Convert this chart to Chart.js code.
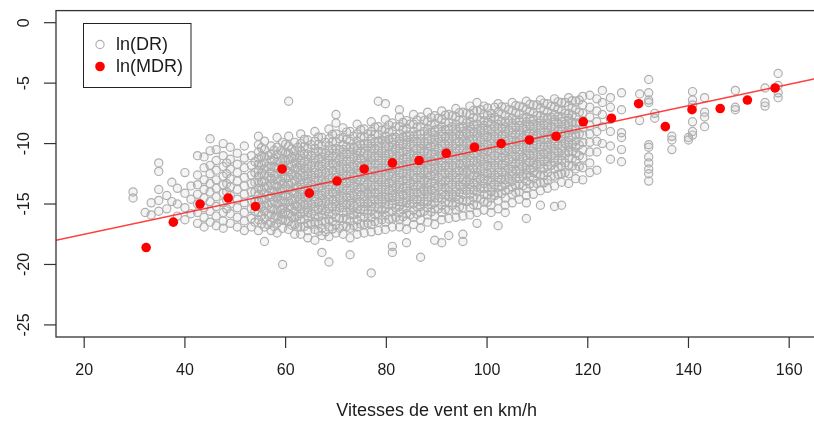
<!DOCTYPE html>
<html>
<head>
<meta charset="utf-8">
<script src="https://cdn.jsdelivr.net/npm/chart.js@4/dist/chart.umd.min.js"></script>
<style>
  html, body { margin: 0; padding: 0; background: #fff; overflow: hidden; }
  #wrap { width: 830px; height: 424px; }
</style>
</head>
<body>
<div id="wrap"><canvas id="plot" width="830" height="424"></canvas></div>
<script>
const xTicks = [20, 40, 60, 80, 100, 120, 140, 160];
const yTicks = [0, -5, -10, -15, -20, -25];

// mean ln(MDR) per speed class
const mdrSpeed = [32.3, 37.7, 43.0, 48.6, 54.0, 59.3, 64.7, 70.2, 75.6, 81.2, 86.5, 91.9,
                  97.5, 102.8, 108.4, 113.7, 119.1, 124.7, 130.1, 135.4, 140.7, 146.3, 151.7, 157.2];
const mdrLn = [-18.6, -16.5, -15.0, -14.5, -15.2, -12.1, -14.1, -13.1, -12.1, -11.6, -11.4, -10.8,
               -10.3, -10.0, -9.7, -9.4, -8.2, -7.9, -6.7, -8.6, -7.2, -7.1, -6.4, -5.4];

// regression line ends
const lineSpeed = [14.4, 165.6];
const lineLn = [-18.0, -4.6];

// ln(DR) observations, grouped by wind speed
const drColumns = [
  [29.7, [-14.0, -14.5]],
  [32.1, [-15.7]],
  [33.3, [-14.9, -15.9]],
  [34.8, [-11.6, -12.3, -13.8, -14.7, -15.6]],
  [36.4, [-14.3, -15.4]],
  [37.4, [-13.2, -14.8]],
  [38.5, [-13.7, -15.0, -16.0]],
  [40.0, [-12.4, -14.1, -15.3, -16.3]],
  [41.2, [-13.5, -14.6, -15.8]],
  [42.5, [-11.0, -12.6, -13.4, -14.2, -15.0, -15.7, -16.6]],
  [43.8, [-11.1, -12.0, -13.0, -13.8, -14.5, -15.3, -16.1, -16.9]],
  [45.0, [-9.6, -10.6, -11.8, -12.5, -13.3, -14.0, -14.8, -15.6, -16.5]],
  [46.2, [-10.5, -11.4, -12.2, -13.0, -13.7, -14.4, -15.2, -16.0, -16.8]],
  [47.6, [-10.0, -11.0, -11.9, -12.7, -13.4, -14.1, -14.9, -15.7, -16.4, -17.0]],
  [48.3, [-11.6, -12.5, -13.3, -14.0, -14.7, -15.4]],
  [49.0, [-10.3, -11.3, -12.1, -12.9, -13.6, -14.3, -15.0, -15.8, -16.6]],
  [50.4, [-10.8, -11.7, -12.4, -13.1, -13.8, -14.6, -15.3, -16.1, -16.9]],
  [51.8, [-10.2, -11.2, -12.0, -12.8, -13.5, -14.2, -14.9, -15.7, -16.4, -17.2]],
  [53.2, [-11.0, -11.8, -12.6, -13.3, -14.0, -14.7, -15.4, -16.2, -16.9]],
  [53.9, [-11.5, -12.4, -13.2, -14.0, -14.8, -15.6, -16.5]],
  [54.6, [-9.4, -10.1, -10.7, -11.2, -11.7, -12.2, -12.7, -13.2, -13.7, -14.2, -14.7, -15.2, -15.7, -16.3, -17.2]],
  [55.2, [-10.35, -11.05, -11.75, -12.45, -13.15, -13.85, -14.55, -15.25, -15.95, -16.65]],
  [55.8, [-9.8, -10.5, -11.1, -11.6, -12.1, -12.6, -13.1, -13.6, -14.1, -14.6, -15.1, -15.6, -16.2, -16.9, -18.1]],
  [56.5, [-11.0, -11.9, -12.7, -13.5, -14.3, -15.1, -15.9, -16.7]],
  [57.1, [-10.2, -10.9, -11.4, -11.9, -12.4, -12.9, -13.4, -13.9, -14.4, -14.9, -15.4, -15.9, -16.5, -17.2]],
  [57.7, [-10.55, -11.25, -11.95, -12.65, -13.35, -14.05, -14.75, -15.45, -16.15, -16.85]],
  [58.3, [-9.5, -10.3, -10.9, -11.5, -12.0, -12.5, -13.0, -13.5, -14.0, -14.5, -15.0, -15.5, -16.0, -16.6, -17.4]],
  [59.0, [-10.6, -11.5, -12.3, -13.1, -13.9, -14.7, -15.5, -16.3]],
  [59.4, [-9.9, -10.7, -11.3, -11.8, -12.3, -12.8, -13.3, -13.8, -14.3, -14.8, -15.3, -15.8, -16.3, -17.0, -20.0]],
  [60.0, [-10.05, -10.75, -11.45, -12.15, -12.85, -13.55, -14.25, -14.95, -15.65, -16.35]],
  [60.6, [-6.5, -9.4, -10.2, -10.8, -11.3, -11.8, -12.3, -12.8, -13.3, -13.8, -14.3, -14.8, -15.3, -15.8, -16.4, -17.1]],
  [61.2, [-10.45, -11.15, -11.85, -12.55, -13.25, -13.95, -14.65, -15.35, -16.05, -16.75]],
  [61.8, [-9.9, -10.6, -11.1, -11.6, -12.1, -12.6, -13.1, -13.6, -14.1, -14.6, -15.1, -15.6, -16.1, -16.7, -17.5]],
  [62.4, [-10.3, -11.2, -12.0, -12.8, -13.6, -14.4, -15.2, -16.0, -16.9]],
  [63.0, [-9.2, -10.0, -10.6, -11.0, -11.4, -11.8, -12.2, -12.6, -13.0, -13.4, -13.8, -14.2, -14.6, -15.0, -15.4, -15.8, -16.3, -16.9, -17.5]],
  [63.7, [-9.65, -10.25, -10.85, -11.45, -12.05, -12.65, -13.25, -13.85, -14.45, -15.05, -15.65, -16.25, -16.85]],
  [64.4, [-9.7, -10.4, -10.9, -11.3, -11.7, -12.1, -12.5, -12.9, -13.3, -13.7, -14.1, -14.5, -14.9, -15.3, -15.7, -16.1, -16.6, -17.2, -17.8]],
  [65.1, [-10.1, -11.0, -11.8, -12.6, -13.4, -14.2, -15.0, -15.8, -16.7]],
  [65.8, [-9.0, -9.8, -10.4, -10.8, -11.2, -11.6, -12.0, -12.4, -12.8, -13.2, -13.6, -14.0, -14.4, -14.8, -15.2, -15.6, -16.0, -16.5, -17.1, -18.0]],
  [66.5, [-9.45, -10.05, -10.65, -11.25, -11.85, -12.45, -13.05, -13.65, -14.25, -14.85, -15.45, -16.05, -16.65, -17.25]],
  [67.2, [-9.5, -10.2, -10.7, -11.1, -11.5, -11.9, -12.3, -12.7, -13.1, -13.5, -13.9, -14.3, -14.7, -15.1, -15.5, -15.9, -16.4, -17.0, -17.6, -19.0]],
  [67.9, [-9.9, -10.8, -11.6, -12.4, -13.2, -14.0, -14.8, -15.6, -16.5, -17.3]],
  [68.6, [-8.8, -9.6, -10.2, -10.6, -11.0, -11.4, -11.8, -12.2, -12.6, -13.0, -13.4, -13.8, -14.2, -14.6, -15.0, -15.4, -15.8, -16.3, -16.9, -17.7, -19.8]],
  [69.3, [-9.25, -9.85, -10.45, -11.05, -11.65, -12.25, -12.85, -13.45, -14.05, -14.65, -15.25, -15.85, -16.45, -17.05]],
  [70.0, [-7.6, -8.3, -9.2, -9.9, -10.4, -10.8, -11.2, -11.6, -12.0, -12.4, -12.8, -13.2, -13.6, -14.0, -14.4, -14.8, -15.2, -15.6, -16.1, -16.7, -17.4]],
  [70.7, [-9.6, -10.5, -11.3, -12.1, -12.9, -13.7, -14.5, -15.3, -16.2, -17.0]],
  [71.4, [-8.7, -9.5, -10.1, -10.5, -10.9, -11.3, -11.7, -12.1, -12.5, -12.9, -13.3, -13.7, -14.1, -14.5, -14.9, -15.3, -15.7, -16.2, -16.8, -17.5]],
  [72.1, [-9.05, -9.65, -10.25, -10.85, -11.45, -12.05, -12.65, -13.25, -13.85, -14.45, -15.05, -15.65, -16.25, -16.85]],
  [72.8, [-9.0, -9.8, -10.3, -10.7, -11.1, -11.5, -11.9, -12.3, -12.7, -13.1, -13.5, -13.9, -14.3, -14.7, -15.1, -15.5, -15.9, -16.4, -17.0, -17.8, -19.2]],
  [73.5, [-9.4, -10.3, -11.1, -11.9, -12.7, -13.5, -14.3, -15.1, -15.9, -16.8]],
  [74.2, [-8.4, -9.2, -9.8, -10.2, -10.6, -11.0, -11.4, -11.8, -12.2, -12.6, -13.0, -13.4, -13.8, -14.2, -14.6, -15.0, -15.4, -15.8, -16.3, -16.9, -17.5]],
  [74.9, [-8.85, -9.45, -10.05, -10.65, -11.25, -11.85, -12.45, -13.05, -13.65, -14.25, -14.85, -15.45, -16.05, -16.65]],
  [75.6, [-8.8, -9.5, -10.0, -10.4, -10.8, -11.2, -11.6, -12.0, -12.4, -12.8, -13.2, -13.6, -14.0, -14.4, -14.8, -15.2, -15.6, -16.1, -16.7, -17.4]],
  [76.3, [-9.2, -10.0, -10.9, -11.7, -12.5, -13.3, -14.1, -14.9, -15.8, -16.6]],
  [77.0, [-8.2, -9.0, -9.6, -10.0, -10.4, -10.8, -11.2, -11.6, -12.0, -12.4, -12.8, -13.2, -13.6, -14.0, -14.4, -14.8, -15.2, -15.6, -16.1, -16.7, -17.3, -20.7]],
  [77.7, [-8.65, -9.25, -9.85, -10.45, -11.05, -11.65, -12.25, -12.85, -13.45, -14.05, -14.65, -15.25, -15.85, -16.45]],
  [78.4, [-6.5, -8.6, -9.3, -9.8, -10.2, -10.6, -11.0, -11.4, -11.8, -12.2, -12.6, -13.0, -13.4, -13.8, -14.2, -14.6, -15.0, -15.4, -15.9, -16.5, -17.2]],
  [79.1, [-8.9, -9.7, -10.6, -11.4, -12.2, -13.0, -13.8, -14.6, -15.5, -16.3]],
  [79.8, [-6.7, -8.0, -8.8, -9.4, -9.8, -10.2, -10.6, -11.0, -11.4, -11.8, -12.2, -12.6, -13.0, -13.4, -13.8, -14.2, -14.6, -15.0, -15.4, -15.9, -16.5, -17.1]],
  [80.5, [-8.45, -9.05, -9.65, -10.25, -10.85, -11.45, -12.05, -12.65, -13.25, -13.85, -14.45, -15.05, -15.65, -16.25]],
  [81.2, [-8.3, -9.0, -9.5, -9.9, -10.3, -10.7, -11.1, -11.5, -11.9, -12.3, -12.7, -13.1, -13.5, -13.9, -14.3, -14.7, -15.1, -15.6, -16.2, -16.9, -18.5, -19.0]],
  [81.9, [-8.6, -9.5, -10.4, -11.2, -12.0, -12.8, -13.6, -14.4, -15.3, -16.1]],
  [82.6, [-7.2, -7.8, -8.6, -9.2, -9.6, -10.0, -10.4, -10.8, -11.2, -11.6, -12.0, -12.4, -12.8, -13.2, -13.6, -14.0, -14.4, -14.8, -15.2, -15.7, -16.3, -16.9]],
  [83.3, [-8.25, -8.85, -9.45, -10.05, -10.65, -11.25, -11.85, -12.45, -13.05, -13.65, -14.25, -14.85, -15.45, -16.05]],
  [84.0, [-8.1, -8.8, -9.3, -9.7, -10.1, -10.5, -10.9, -11.3, -11.7, -12.1, -12.5, -12.9, -13.3, -13.7, -14.1, -14.5, -14.9, -15.3, -15.8, -16.4, -17.1, -18.2]],
  [84.7, [-8.4, -9.3, -10.1, -10.9, -11.7, -12.5, -13.3, -14.1, -15.0, -15.9]],
  [85.4, [-7.6, -8.4, -9.0, -9.4, -9.8, -10.2, -10.6, -11.0, -11.4, -11.8, -12.2, -12.6, -13.0, -13.4, -13.8, -14.2, -14.6, -15.0, -15.5, -16.1, -16.7]],
  [86.1, [-8.05, -8.65, -9.25, -9.85, -10.45, -11.05, -11.65, -12.25, -12.85, -13.45, -14.05, -14.65, -15.25, -15.85]],
  [86.8, [-7.8, -8.6, -9.2, -9.6, -10.0, -10.4, -10.8, -11.2, -11.6, -12.0, -12.4, -12.8, -13.2, -13.6, -14.0, -14.4, -14.8, -15.2, -15.7, -16.3, -17.0, -19.4]],
  [87.5, [-8.1, -9.0, -9.9, -10.7, -11.5, -12.3, -13.1, -13.9, -14.8, -15.6]],
  [88.2, [-7.4, -8.2, -8.8, -9.2, -9.6, -10.0, -10.4, -10.8, -11.2, -11.6, -12.0, -12.4, -12.8, -13.2, -13.6, -14.0, -14.4, -14.8, -15.3, -15.9, -16.5]],
  [88.9, [-7.85, -8.45, -9.05, -9.65, -10.25, -10.85, -11.45, -12.05, -12.65, -13.25, -13.85, -14.45, -15.05, -15.65]],
  [89.6, [-7.7, -8.4, -8.9, -9.3, -9.7, -10.1, -10.5, -10.9, -11.3, -11.7, -12.1, -12.5, -12.9, -13.3, -13.7, -14.1, -14.5, -14.9, -15.4, -16.0, -16.7, -18.0]],
  [90.3, [-7.9, -8.8, -9.6, -10.4, -11.2, -12.0, -12.8, -13.6, -14.5, -15.4]],
  [91.0, [-7.3, -8.0, -8.6, -9.0, -9.4, -9.8, -10.2, -10.6, -11.0, -11.4, -11.8, -12.2, -12.6, -13.0, -13.4, -13.8, -14.2, -14.6, -15.1, -15.7, -16.3, -18.2]],
  [91.7, [-7.65, -8.25, -8.85, -9.45, -10.05, -10.65, -11.25, -11.85, -12.45, -13.05, -13.65, -14.25, -14.85, -15.45]],
  [92.4, [-7.6, -8.3, -8.8, -9.2, -9.6, -10.0, -10.4, -10.8, -11.2, -11.6, -12.0, -12.4, -12.8, -13.2, -13.6, -14.0, -14.4, -14.9, -15.5, -16.2, -17.6]],
  [93.1, [-7.7, -8.6, -9.4, -10.2, -11.0, -11.8, -12.6, -13.4, -14.2, -15.1]],
  [93.8, [-7.1, -7.8, -8.4, -8.8, -9.2, -9.6, -10.0, -10.4, -10.8, -11.2, -11.6, -12.0, -12.4, -12.8, -13.2, -13.6, -14.0, -14.4, -14.9, -15.5, -16.1]],
  [94.5, [-7.45, -8.05, -8.65, -9.25, -9.85, -10.45, -11.05, -11.65, -12.25, -12.85, -13.45, -14.05, -14.65, -15.25]],
  [95.2, [-7.4, -8.1, -8.6, -9.0, -9.4, -9.8, -10.2, -10.6, -11.0, -11.4, -11.8, -12.2, -12.6, -13.0, -13.4, -13.8, -14.2, -14.7, -15.3, -16.0, -17.5, -18.1]],
  [95.9, [-7.5, -8.3, -9.1, -9.9, -10.7, -11.5, -12.3, -13.1, -13.9, -14.8]],
  [96.6, [-6.9, -7.6, -8.2, -8.6, -9.0, -9.4, -9.8, -10.2, -10.6, -11.0, -11.4, -11.8, -12.2, -12.6, -13.0, -13.4, -13.8, -14.2, -14.7, -15.3, -15.9]],
  [97.3, [-7.25, -7.85, -8.45, -9.05, -9.65, -10.25, -10.85, -11.45, -12.05, -12.65, -13.25, -13.85, -14.45, -15.05]],
  [98.0, [-6.6, -7.3, -7.9, -8.4, -8.8, -9.2, -9.6, -10.0, -10.4, -10.8, -11.2, -11.6, -12.0, -12.4, -12.8, -13.2, -13.6, -14.0, -14.5, -15.1, -15.7, -16.6]],
  [98.7, [-7.2, -8.1, -8.9, -9.7, -10.5, -11.3, -12.1, -12.9, -13.7, -14.6]],
  [99.4, [-6.9, -7.6, -8.1, -8.5, -8.9, -9.3, -9.7, -10.1, -10.5, -10.9, -11.3, -11.7, -12.1, -12.5, -12.9, -13.3, -13.7, -14.2, -14.8, -15.5]],
  [100.1, [-7.05, -7.65, -8.25, -8.85, -9.45, -10.05, -10.65, -11.25, -11.85, -12.45, -13.05, -13.65, -14.25, -14.85]],
  [100.8, [-7.5, -7.9, -8.4, -8.8, -9.2, -9.6, -10.0, -10.4, -10.8, -11.2, -11.6, -12.0, -12.4, -12.8, -13.2, -13.6, -14.0, -14.5, -15.1, -15.7]],
  [101.5, [-7.0, -7.8, -8.6, -9.4, -10.2, -11.0, -11.8, -12.6, -13.4, -14.3]],
  [102.2, [-6.7, -7.4, -8.0, -8.4, -8.8, -9.2, -9.6, -10.0, -10.4, -10.8, -11.2, -11.6, -12.0, -12.4, -12.8, -13.2, -13.6, -14.1, -14.7, -15.4, -16.8]],
  [102.9, [-6.95, -7.55, -8.15, -8.75, -9.35, -9.95, -10.55, -11.15, -11.75, -12.35, -12.95, -13.55, -14.15]],
  [103.6, [-7.0, -7.7, -8.2, -8.6, -9.0, -9.4, -9.8, -10.2, -10.6, -11.0, -11.4, -11.8, -12.2, -12.6, -13.0, -13.4, -13.9, -14.5, -15.1, -15.7]],
  [104.3, [-7.2, -8.1, -8.9, -9.7, -10.5, -11.3, -12.1, -12.9, -13.8]],
  [105.0, [-6.6, -7.3, -7.9, -8.3, -8.7, -9.1, -9.5, -9.9, -10.3, -10.7, -11.1, -11.5, -11.9, -12.3, -12.7, -13.1, -13.6, -14.2, -14.9]],
  [105.7, [-6.85, -7.45, -8.05, -8.65, -9.25, -9.85, -10.45, -11.05, -11.65, -12.25, -12.85, -13.45, -14.05]],
  [106.4, [-6.9, -7.6, -8.1, -8.5, -8.9, -9.3, -9.7, -10.1, -10.5, -10.9, -11.3, -11.7, -12.1, -12.5, -12.9, -13.4, -14.0, -14.6]],
  [107.1, [-7.0, -7.9, -8.7, -9.5, -10.3, -11.1, -11.9, -12.7, -13.5]],
  [107.8, [-6.5, -7.2, -7.8, -8.2, -8.6, -9.0, -9.4, -9.8, -10.2, -10.6, -11.0, -11.4, -11.8, -12.2, -12.6, -13.1, -13.7, -14.3, -14.9, -16.2]],
  [108.5, [-6.75, -7.35, -7.95, -8.55, -9.15, -9.75, -10.35, -10.95, -11.55, -12.15, -12.75, -13.35]],
  [109.2, [-6.8, -7.5, -8.0, -8.4, -8.8, -9.2, -9.6, -10.0, -10.4, -10.8, -11.2, -11.6, -12.0, -12.4, -12.9, -13.5, -14.2]],
  [109.9, [-6.8, -7.7, -8.5, -9.3, -10.1, -10.9, -11.7, -12.5, -13.3]],
  [110.6, [-6.4, -7.1, -7.7, -8.1, -8.5, -8.9, -9.3, -9.7, -10.1, -10.5, -10.9, -11.3, -11.7, -12.1, -12.6, -13.2, -13.9, -15.1]],
  [111.3, [-6.65, -7.25, -7.85, -8.45, -9.05, -9.65, -10.25, -10.85, -11.45, -12.05, -12.65, -13.25]],
  [112.0, [-6.7, -7.4, -7.9, -8.3, -8.7, -9.1, -9.5, -9.9, -10.3, -10.7, -11.1, -11.5, -11.9, -12.4, -13.0, -13.7]],
  [112.7, [-6.9, -7.8, -8.6, -9.4, -10.2, -11.0, -11.8, -12.7]],
  [113.4, [-6.3, -7.0, -7.6, -8.0, -8.4, -8.8, -9.2, -9.6, -10.0, -10.4, -10.8, -11.2, -11.6, -12.1, -12.7, -13.5, -15.2]],
  [114.1, [-6.55, -7.15, -7.75, -8.35, -8.95, -9.55, -10.15, -10.75, -11.35, -11.95, -12.55]],
  [114.8, [-6.6, -7.3, -7.8, -8.2, -8.6, -9.0, -9.4, -9.8, -10.2, -10.6, -11.0, -11.4, -11.9, -12.5, -13.2, -15.1]],
  [115.5, [-6.6, -7.5, -8.4, -9.2, -10.0, -10.8, -11.6, -12.4]],
  [116.2, [-6.2, -6.9, -7.5, -7.9, -8.3, -8.7, -9.1, -9.5, -9.9, -10.3, -10.7, -11.2, -11.8, -12.5, -13.3]],
  [116.9, [-6.45, -7.05, -7.65, -8.25, -8.85, -9.45, -10.05, -10.65, -11.25, -11.85]],
  [117.6, [-6.5, -7.2, -7.8, -8.3, -8.8, -9.3, -9.8, -10.3, -10.8, -11.4, -12.1, -12.9]],
  [118.3, [-6.4, -7.4, -8.3, -9.2, -10.1, -11.0, -11.9]],
  [119.0, [-6.1, -6.8, -7.5, -8.1, -8.7, -9.3, -9.9, -10.5, -11.2, -12.0, -13.0]],
  [120.4, [-6.0, -7.0, -7.8, -8.5, -9.2, -9.9, -10.7, -11.6, -12.4]],
  [121.8, [-6.3, -7.3, -8.2, -9.0, -9.8, -10.7, -12.2]],
  [122.9, [-5.6, -6.6, -7.6, -8.6, -10.0]],
  [124.5, [-6.2, -7.0, -8.0, -9.0, -10.2, -11.3]],
  [126.7, [-5.8, -7.2, -9.1, -9.5, -10.5, -11.5]],
  [130.3, [-5.9, -8.1]],
  [132.1, [-4.7, -5.8, -6.4, -6.6, -10.1, -10.3, -11.1, -11.6, -12.1, -12.5, -13.1]],
  [133.3, [-7.5, -7.9]],
  [136.7, [-9.4, -9.7, -10.5]],
  [140.0, [-9.5, -9.7]],
  [140.8, [-5.7, -6.4, -6.8, -8.2, -9.0, -9.3]],
  [143.2, [-6.2, -7.4, -7.8, -8.6]],
  [149.3, [-5.6, -7.0, -7.2]],
  [155.2, [-5.4, -6.6, -6.9]],
  [157.8, [-4.2, -5.2, -5.8, -6.2]]
];

const FONT = '"Liberation Sans", Arial, Helvetica, sans-serif';
const GREY = '#b0b0b0';

const drPoints = [];
drColumns.forEach(function (col) {
    col[1].forEach(function (v) { drPoints.push({ x: col[0], y: v }); });
});
const mdrPoints = mdrSpeed.map((s, i) => ({ x: s, y: mdrLn[i] }));
const linePoints = lineSpeed.map((s, i) => ({ x: s, y: lineLn[i] }));

// base-R style box, ticks, labels and legend
const rFrame = {
    id: 'rFrame',
    afterDraw(chart) {
        const ctx = chart.ctx;
        const a = chart.chartArea;
        const x = chart.scales.x, y = chart.scales.y;
        ctx.save();
        ctx.strokeStyle = '#333';
        ctx.lineWidth = 1.3;
        ctx.strokeRect(a.left, a.top, a.right - a.left, a.bottom - a.top);

        ctx.fillStyle = '#1c1c1c';
        ctx.font = '16px ' + FONT;
        ctx.textAlign = 'center';
        ctx.textBaseline = 'middle';
        ctx.lineWidth = 1.2;
        xTicks.forEach(function (v) {
            const px = x.getPixelForValue(v);
            ctx.beginPath();
            ctx.moveTo(px, a.bottom);
            ctx.lineTo(px, a.bottom + 11);
            ctx.stroke();
            ctx.fillText(String(v), px, a.bottom + 34);
        });
        yTicks.forEach(function (v) {
            const py = y.getPixelForValue(v);
            ctx.beginPath();
            ctx.moveTo(a.left - 12, py);
            ctx.lineTo(a.left, py);
            ctx.stroke();
            ctx.save();
            ctx.translate(a.left - 31, py);
            ctx.rotate(-Math.PI / 2);
            ctx.fillText(String(v), 0, 0);
            ctx.restore();
        });

        ctx.font = '18px ' + FONT;
        ctx.fillText('Vitesses de vent en km/h', (a.left + a.right) / 2, 411);

        // legend
        ctx.strokeStyle = '#222';
        ctx.lineWidth = 1;
        ctx.strokeRect(83.5, 23.5, 107.5, 64);
        ctx.strokeStyle = GREY;
        ctx.lineWidth = 1.2;
        ctx.beginPath();
        ctx.arc(100, 44.5, 4.1, 0, Math.PI * 2);
        ctx.stroke();
        ctx.fillStyle = '#ff0000';
        ctx.beginPath();
        ctx.arc(100, 66.5, 4.8, 0, Math.PI * 2);
        ctx.fill();
        ctx.fillStyle = '#1c1c1c';
        ctx.textAlign = 'left';
        ctx.fillText('ln(DR)', 116, 45);
        ctx.fillText('ln(MDR)', 116, 67);
        ctx.restore();
    }
};

const plotCtx = document.getElementById('plot').getContext('2d');
const plot = new Chart(plotCtx, {
    type: 'scatter',
    data: {
        datasets: [{
            label: 'ln(MDR)',
            data: mdrPoints,
            pointRadius: 4.8,
            backgroundColor: '#ff0000',
            borderWidth: 0,
            order: 0
        }, {
            label: 'fit',
            type: 'line',
            data: linePoints,
            borderColor: 'rgba(255, 30, 30, 0.85)',
            borderWidth: 1.4,
            pointRadius: 0,
            fill: false,
            order: 1
        }, {
            label: 'ln(DR)',
            data: drPoints,
            pointRadius: 4.1,
            borderColor: GREY,
            borderWidth: 1.2,
            backgroundColor: 'rgba(150, 150, 150, 0.1)',
            order: 2
        }]
    },
    options: {
        responsive: false,
        animation: false,
        events: [],
        layout: { padding: { left: 56, top: 10.6, right: 12.6, bottom: 87 } },
        scales: {
            x: { type: 'linear', min: 14.4, max: 165.6, display: false },
            y: { type: 'linear', min: -26, max: 1, display: false }
        },
        plugins: {
            legend: { display: false },
            tooltip: { enabled: false }
        }
    },
    plugins: [rFrame]
});
</script>
</body>
</html>
